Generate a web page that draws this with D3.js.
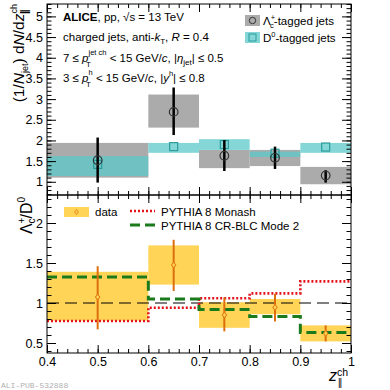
<!DOCTYPE html>
<html>
<head>
<meta charset="utf-8">
<script src="https://cdn.jsdelivr.net/npm/d3@7"></script>
<style>
body { margin: 0; background: #fff; }
svg text { font-family: "Liberation Sans", Arial, sans-serif; fill: #000; }
.axis path, .axis line { stroke: #000; stroke-width: 1; }
</style>
</head>
<body>
<div id="graph"></div>
<script>
// bins in z||ch
var binLo = [0.4, 0.6, 0.7, 0.8, 0.9];
var binHi = [0.6, 0.7, 0.8, 0.9, 1.0];
var binCenter = [0.5, 0.65, 0.75, 0.85, 0.95];

// Lc-tagged jets
var lcVal = [1.52, 2.69, 1.63, 1.58, 1.15];
var lcStatLo = [0.98, 2.13, 1.26, 1.31, 0.98];
var lcStatHi = [2.07, 3.28, 2.01, 1.85, 1.28];
var lcSysLo = [1.10, 2.31, 1.33, 1.38, 0.94];
var lcSysHi = [1.94, 3.11, 1.77, 1.77, 1.36];

// D0-tagged jets
var d0Val = [1.42, 1.85, 1.90, 1.69, 1.84];
var d0SysLo = [1.14, 1.70, 1.77, 1.60, 1.70];
var d0SysHi = [1.62, 1.94, 2.03, 1.73, 1.94];

// ratio Lc/D0
var ratioVal = [1.075, 1.475, 0.85, 0.945, 0.62];
var ratioStatLo = [0.67, 1.15, 0.645, 0.77, 0.52];
var ratioStatHi = [1.46, 1.79, 1.07, 1.115, 0.72];
var ratioSysLo = [0.78, 1.23, 0.69, 0.86, 0.52];
var ratioSysHi = [1.39, 1.72, 1.01, 1.05, 0.72];

// models
var monash = [0.775, 0.94, 1.06, 1.12, 1.27];
var crblc = [1.325, 1.05, 0.92, 0.83, 0.63];

var xTicks = [0.4, 0.5, 0.6, 0.7, 0.8, 0.9, 1];
var topTicks = [1, 1.5, 2, 2.5, 3, 3.5, 4, 4.5, 5];
var botTicks = [0.5, 1, 1.5, 2];

var width = 390, height = 390;
var svg = d3.select("div#graph").append("svg")
    .attr("width", width).attr("height", height);

var x = d3.scaleLinear().domain([0.4, 1]).range([47, 351]);
var yTop = d3.scaleLinear().domain([0.68, 5.3]).range([195, 4]);
var yBot = d3.scaleLinear().domain([0.375, 2.35]).range([353, 195]);

function minors(lo, hi, step) {
    var out = [];
    for (var v = Math.ceil(lo / step - 1e-6); v * step <= hi + 1e-9; v++) out.push(+(v * step).toFixed(4));
    return out;
}

// frame + inward ticks for one pad
function frame(y, yMajor, bottomLabels) {
    var g = svg.append("g");
    var x0 = x.range()[0], x1 = x.range()[1];
    var yr = y.range();
    g.append("rect").attr("x", x0).attr("y", yr[1]).attr("width", x1 - x0).attr("height", yr[0] - yr[1])
        .attr("fill", "none").attr("stroke", "#000");
    var ymin = minors(y.domain()[0], y.domain()[1], 0.1);
    // left
    g.append("g").attr("class", "axis").attr("transform", "translate(" + x0 + ",0)")
        .call(d3.axisLeft(y).tickValues(ymin).tickSize(-4.5).tickFormat("")).select(".domain").remove();
    g.append("g").attr("class", "axis").attr("transform", "translate(" + x0 + ",0)")
        .call(d3.axisLeft(y).tickValues(yMajor).tickSize(-9).tickPadding(4).tickFormat(d3.format("")))
        .call(function(s) { s.select(".domain").remove(); s.selectAll("text").style("font-size", "12.5px"); });
    // right
    g.append("g").attr("class", "axis").attr("transform", "translate(" + x1 + ",0)")
        .call(d3.axisRight(y).tickValues(ymin).tickSize(-4.5).tickFormat("")).select(".domain").remove();
    g.append("g").attr("class", "axis").attr("transform", "translate(" + x1 + ",0)")
        .call(d3.axisRight(y).tickValues(yMajor).tickSize(-9).tickFormat("")).select(".domain").remove();
    var xmin = minors(0.4, 1, 0.02);
    // bottom
    g.append("g").attr("class", "axis").attr("transform", "translate(0," + yr[0] + ")")
        .call(d3.axisBottom(x).tickValues(xmin).tickSize(-4).tickFormat("")).select(".domain").remove();
    var b = g.append("g").attr("class", "axis").attr("transform", "translate(0," + yr[0] + ")")
        .call(d3.axisBottom(x).tickValues(xTicks).tickSize(-8).tickPadding(4)
            .tickFormat(bottomLabels ? d3.format("") : ""));
    b.select(".domain").remove();
    b.selectAll("text").style("font-size", "12.5px");
    // top
    g.append("g").attr("class", "axis").attr("transform", "translate(0," + yr[1] + ")")
        .call(d3.axisTop(x).tickValues(xmin).tickSize(-4).tickFormat("")).select(".domain").remove();
    g.append("g").attr("class", "axis").attr("transform", "translate(0," + yr[1] + ")")
        .call(d3.axisTop(x).tickValues(xTicks).tickSize(-8).tickFormat("")).select(".domain").remove();
}

// ---------- top pad ----------
var idx = d3.range(binLo.length);

svg.append("g").selectAll("rect.lcsys").data(idx).enter().append("rect")
    .attr("x", function(i) { return x(binLo[i]); })
    .attr("width", function(i) { return x(binHi[i]) - x(binLo[i]); })
    .attr("y", function(i) { return yTop(lcSysHi[i]); })
    .attr("height", function(i) { return yTop(lcSysLo[i]) - yTop(lcSysHi[i]); })
    .attr("fill", "#ababab");

svg.append("g").selectAll("rect.d0sys").data(idx).enter().append("rect")
    .attr("x", function(i) { return x(binLo[i]); })
    .attr("width", function(i) { return x(binHi[i]) - x(binLo[i]); })
    .attr("y", function(i) { return yTop(d0SysHi[i]); })
    .attr("height", function(i) { return yTop(d0SysLo[i]) - yTop(d0SysHi[i]); })
    .attr("fill", "#5ccaca").attr("fill-opacity", 0.75);

svg.append("g").selectAll("rect.d0pt").data(idx).enter().append("rect")
    .attr("x", function(i) { return x(binCenter[i]) - 4; })
    .attr("y", function(i) { return yTop(d0Val[i]) - 4; })
    .attr("width", 8).attr("height", 8)
    .attr("fill", "none").attr("stroke", "#2a9c9c").attr("stroke-width", 1.2);

svg.append("g").selectAll("line.lcstat").data(idx).enter().append("line")
    .attr("x1", function(i) { return x(binCenter[i]); })
    .attr("x2", function(i) { return x(binCenter[i]); })
    .attr("y1", function(i) { return yTop(lcStatLo[i]); })
    .attr("y2", function(i) { return yTop(lcStatHi[i]); })
    .attr("stroke", "#000").attr("stroke-width", 2.5);

svg.append("g").selectAll("circle.lc").data(idx).enter().append("circle")
    .attr("cx", function(i) { return x(binCenter[i]); })
    .attr("cy", function(i) { return yTop(lcVal[i]); })
    .attr("r", 4.3)
    .attr("fill", "none").attr("stroke", "#333").attr("stroke-width", 1.2);

frame(yTop, topTicks, false);

// ---------- bottom pad ----------
svg.append("g").selectAll("rect.rsys").data(idx).enter().append("rect")
    .attr("x", function(i) { return x(binLo[i]); })
    .attr("width", function(i) { return x(binHi[i]) - x(binLo[i]); })
    .attr("y", function(i) { return yBot(ratioSysHi[i]); })
    .attr("height", function(i) { return yBot(ratioSysLo[i]) - yBot(ratioSysHi[i]); })
    .attr("fill", "#ffd457");

svg.append("line")
    .attr("x1", x(0.4)).attr("x2", x(1)).attr("y1", yBot(1)).attr("y2", yBot(1))
    .attr("stroke", "#000").attr("stroke-width", 1.2).attr("stroke-dasharray", "12,6");

function stepPts(vals) {
    var pts = vals.map(function(v, i) { return [binLo[i], v]; });
    pts.push([binHi[vals.length - 1], vals[vals.length - 1]]);
    return pts;
}
var step = d3.line().x(function(d) { return x(d[0]); }).y(function(d) { return yBot(d[1]); })
    .curve(d3.curveStepAfter);

svg.append("path").attr("d", step(stepPts(monash)))
    .attr("fill", "none").attr("stroke", "#e3141c").attr("stroke-width", 2.6).attr("stroke-dasharray", "2,2");
svg.append("path").attr("d", step(stepPts(crblc)))
    .attr("fill", "none").attr("stroke", "#1b7a1b").attr("stroke-width", 3).attr("stroke-dasharray", "10,5");

svg.append("g").selectAll("line.rstat").data(idx).enter().append("line")
    .attr("x1", function(i) { return x(binCenter[i]); })
    .attr("x2", function(i) { return x(binCenter[i]); })
    .attr("y1", function(i) { return yBot(ratioStatLo[i]); })
    .attr("y2", function(i) { return yBot(ratioStatHi[i]); })
    .attr("stroke", "#dd6e0e").attr("stroke-width", 2);

var diamond = d3.symbol().type(d3.symbolDiamond2).size(22);
svg.append("g").selectAll("path.rpt").data(idx).enter().append("path")
    .attr("d", diamond)
    .attr("transform", function(i) { return "translate(" + x(binCenter[i]) + "," + yBot(ratioVal[i]) + ") scale(0.75,1)"; })
    .attr("fill", "#ffd457").attr("stroke", "#e27a10").attr("stroke-width", 1.1);

frame(yBot, botTicks, true);

// ---------- texts ----------
var t = svg.append("g").style("font-size", "11.5px");
var l1 = t.append("text").attr("x", 63).attr("y", 21);
l1.append("tspan").attr("font-weight", "bold").text("ALICE");
l1.append("tspan").text(", pp, \u221As = 13 TeV");

var l2 = t.append("text").attr("x", 63).attr("y", 41);
l2.append("tspan").text("charged jets, anti-");
l2.append("tspan").attr("font-style", "italic").text("k");
l2.append("tspan").attr("font-size", "8px").attr("dy", 3).text("T");
l2.append("tspan").attr("dy", -3).text(", ");
l2.append("tspan").attr("font-style", "italic").text("R");
l2.append("tspan").text(" = 0.4");

// superscript and subscript stacked as separate texts
var l3 = t.append("text").attr("x", 63).attr("y", 62);
l3.append("tspan").text("7 \u2264 ");
l3.append("tspan").attr("font-style", "italic").text("p");
l3.append("tspan").attr("font-size", "7.5px").attr("dy", -7).text("jet ch");
l3.append("tspan").attr("dy", 7).text(" < 15 GeV/");
l3.append("tspan").attr("font-style", "italic").text("c");
l3.append("tspan").text(", |");
l3.append("tspan").attr("font-style", "italic").text("\u03B7");
l3.append("tspan").attr("font-size", "8px").attr("dy", 3).text("jet");
l3.append("tspan").attr("dy", -3).text("| \u2264 0.5");
t.append("text").attr("x", 86).attr("y", 67).attr("font-size", "8px").text("T");

var l4 = t.append("text").attr("x", 63).attr("y", 82);
l4.append("tspan").text("3 \u2264 ");
l4.append("tspan").attr("font-style", "italic").text("p");
l4.append("tspan").attr("font-size", "7.5px").attr("dy", -7).text("h");
l4.append("tspan").attr("dy", 7).text("  < 15 GeV/");
l4.append("tspan").attr("font-style", "italic").text("c");
l4.append("tspan").text(", |");
l4.append("tspan").attr("font-style", "italic").text("y");
l4.append("tspan").attr("font-size", "7.5px").attr("dy", -6).text("h");
l4.append("tspan").attr("dy", 6).text("| \u2264 0.8");
t.append("text").attr("x", 86).attr("y", 87).attr("font-size", "8px").text("T");

// top legend
var lg = svg.append("g").style("font-size", "11.5px");
lg.append("rect").attr("x", 245).attr("y", 15).attr("width", 15).attr("height", 11).attr("fill", "#ababab");
lg.append("circle").attr("cx", 252.5).attr("cy", 20.5).attr("r", 3.2).attr("fill", "none").attr("stroke", "#333");
var lt1 = lg.append("text").attr("x", 263).attr("y", 25);
lt1.append("tspan").text("\u039B");
lt1.append("tspan").attr("font-size", "7.5px").attr("dy", -5).text("+");
lt1.append("tspan").attr("font-size", "7.5px").attr("dx", -5).attr("dy", 8).text("c");
lt1.append("tspan").attr("dy", -3).text("-tagged jets");
lg.append("rect").attr("x", 245).attr("y", 32).attr("width", 15).attr("height", 11).attr("fill", "#5ccaca").attr("fill-opacity", 0.75);
lg.append("rect").attr("x", 249).attr("y", 34).attr("width", 7).attr("height", 7).attr("fill", "none").attr("stroke", "#2a9c9c");
var lt2 = lg.append("text").attr("x", 263).attr("y", 42);
lt2.append("tspan").text("D");
lt2.append("tspan").attr("font-size", "7.5px").attr("dy", -5).text("0");
lt2.append("tspan").attr("dy", 5).text("-tagged jets");

// bottom legend
var bl = svg.append("g").style("font-size", "11.5px");
bl.append("rect").attr("x", 64).attr("y", 207).attr("width", 25).attr("height", 10).attr("fill", "#ffd457");
bl.append("path").attr("d", d3.symbol().type(d3.symbolDiamond2).size(16))
    .attr("transform", "translate(76.5,212) scale(0.75,1)")
    .attr("fill", "none").attr("stroke", "#e27a10");
bl.append("text").attr("x", 95).attr("y", 216).text("data");
bl.append("line").attr("x1", 130).attr("x2", 155).attr("y1", 211).attr("y2", 211)
    .attr("stroke", "#e3141c").attr("stroke-width", 2.4).attr("stroke-dasharray", "2,2");
bl.append("text").attr("x", 161).attr("y", 216).text("PYTHIA 8 Monash");
bl.append("line").attr("x1", 130).attr("x2", 155).attr("y1", 225).attr("y2", 225)
    .attr("stroke", "#1b7a1b").attr("stroke-width", 3).attr("stroke-dasharray", "10,5");
bl.append("text").attr("x", 161).attr("y", 230).text("PYTHIA 8 CR-BLC Mode 2");

// axis titles
var yt = svg.append("text").attr("transform", "translate(24,4) rotate(-90)")
    .attr("text-anchor", "end").style("font-size", "15.5px");
yt.append("tspan").text("(1/");
yt.append("tspan").attr("font-style", "italic").text("N");
yt.append("tspan").attr("font-size", "9px").attr("dy", 4).text("jet");
yt.append("tspan").attr("dy", -4).text(") d");
yt.append("tspan").attr("font-style", "italic").text("N");
yt.append("tspan").text("/d");
yt.append("tspan").attr("font-style", "italic").text("z");
yt.append("tspan").attr("font-size", "9px").attr("dy", -7).text("ch");
yt.append("tspan").attr("font-size", "10px").attr("font-weight", "bold").attr("letter-spacing", "-1px")
    .attr("dx", -10).attr("dy", 11).text("||");
yt.append("tspan").attr("dy", -4).attr("font-size", "4px").text(" ");

var yb = svg.append("text").attr("transform", "translate(32,197) rotate(-90)")
    .attr("text-anchor", "end").style("font-size", "16px");
yb.append("tspan").text("\u039B");
yb.append("tspan").attr("font-size", "10px").attr("dy", -7).text("+");
yb.append("tspan").attr("font-size", "10px").attr("dx", -6).attr("dy", 10).text("c");
yb.append("tspan").attr("dy", -3).text("/D");
yb.append("tspan").attr("font-size", "10px").attr("dy", -7).text("0");

var xt = svg.append("g").style("font-size", "16px");
xt.append("text").attr("x", 329).attr("y", 381).attr("font-style", "italic").text("z");
xt.append("text").attr("x", 337).attr("y", 376).attr("font-size", "10.5px").text("ch");
xt.append("text").attr("x", 338).attr("y", 386).attr("font-size", "10px").attr("letter-spacing", "-1px").text("||");

svg.append("text").attr("x", 1).attr("y", 388)
    .style("font-family", "'Liberation Mono', monospace").style("font-size", "8px")
    .style("fill", "#b0b0b0").text("ALI-PUB-532888");
</script>
</body>
</html>
